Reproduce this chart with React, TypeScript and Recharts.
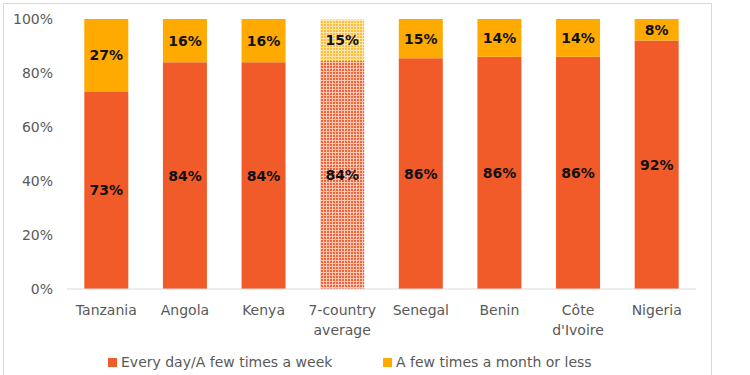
import React from 'react';
import { BarChart, Bar, XAxis, YAxis, Cell, LabelList } from 'recharts';

const categories = ['Tanzania', 'Angola', 'Kenya', '7-country average', 'Senegal', 'Benin', "Côte d'Ivoire", 'Nigeria'];
const frequentValues = [73, 84, 84, 84.4, 85.5, 86, 86, 92];
const rareValues = [27, 16, 16, 15.4, 14.5, 14, 14, 8];
const yTicks = [0, 20, 40, 60, 80, 100];
const seriesNames = ['Every day/A few times a week', 'A few times a month or less'];
const averageCategory = '7-country average';

const ORANGE = '#F15A29';
const YELLOW = '#FFAA00';
const GRAY = '#595959';
const FONT = '"DejaVu Sans", sans-serif';

const data = categories.map((c, i) => ({ name: c, frequent: frequentValues[i], rare: rareValues[i] }));

const CategoryTick = (props: any) => {
  const { x, y, payload } = props;
  const label: string = payload.value;
  const lines = label.length > 10 && label.includes(' ') ? label.split(' ') : [label];
  return (
    <text x={x} y={y} textAnchor="middle" fill={GRAY} fontSize={14} fontFamily={FONT}>
      {lines.map((l, i) => (
        <tspan key={i} x={x} y={y + 26 + i * 20}>{l}</tspan>
      ))}
    </text>
  );
};

const fmt = (v: any) => `${Math.round(Number(v))}%`;

export default function App() {
  return (
    <div style={{ position: 'absolute', left: 0, top: 0, width: 750, height: 375, overflow: 'hidden', background: '#fff' }}>
      <div style={{ position: 'absolute', left: 3, top: 3, width: 709, height: 400, border: '1px solid #D9D9D9', boxSizing: 'border-box' }} />
      <div style={{ position: 'absolute', left: 0, top: 0 }}>
        <BarChart width={750} height={375} data={data} margin={{ top: 19, right: 54, bottom: 26, left: 0 }} barCategoryGap="22%">
          <defs>
            <pattern id="patOrange" width="3" height="3" patternUnits="userSpaceOnUse">
              <rect width="3" height="3" fill="#FBC6B3" />
              <rect width="2" height="2" fill={ORANGE} opacity="0.9" />
            </pattern>
            <pattern id="patYellow" width="3" height="3" patternUnits="userSpaceOnUse">
              <rect width="3" height="3" fill="#FFE6B0" />
              <rect width="2" height="2" fill={YELLOW} opacity="0.7" />
            </pattern>
          </defs>
          <XAxis dataKey="name" height={60} tickLine={false} tickSize={0} tickMargin={0} axisLine={{ stroke: '#D9D9D9' }} interval={0} tick={<CategoryTick />} />
          <YAxis type="number" domain={[0, 100]} ticks={yTicks} width={67} axisLine={false} tickLine={false} tickSize={0} tickMargin={14}
            tickFormatter={(v: number) => `${v}%`} tick={{ fill: GRAY, fontSize: 14, fontFamily: FONT }} allowDataOverflow />
          <Bar dataKey="frequent" name={seriesNames[0]} stackId="a" fill={ORANGE} isAnimationActive={false}>
            {data.map((d, i) => (
              <Cell key={i} fill={d.name === averageCategory ? 'url(#patOrange)' : ORANGE} />
            ))}
            <LabelList dataKey="frequent" position="center" formatter={fmt} fill="#111" fontSize={14} fontWeight="bold" fontFamily={FONT} />
          </Bar>
          <Bar dataKey="rare" name={seriesNames[1]} stackId="a" fill={YELLOW} isAnimationActive={false}>
            {data.map((d, i) => (
              <Cell key={i} fill={d.name === averageCategory ? 'url(#patYellow)' : YELLOW} />
            ))}
            <LabelList dataKey="rare" position="center" formatter={fmt} fill="#111" fontSize={14} fontWeight="bold" fontFamily={FONT} />
          </Bar>
        </BarChart>
      </div>
      <div style={{ position: 'absolute', left: 0, top: 352, width: 750, height: 20, fontFamily: FONT, fontSize: 14, color: GRAY }}>
        {[ORANGE, YELLOW].map((col, i) => (
          <div key={i} style={{ position: 'absolute', left: i === 0 ? 108 : 383, top: 0, height: 20, display: 'flex', alignItems: 'center', whiteSpace: 'nowrap' }}>
            <span style={{ display: 'inline-block', width: 9, height: 9, background: col, marginRight: 4 }} />
            <span>{seriesNames[i]}</span>
          </div>
        ))}
      </div>
    </div>
  );
}
